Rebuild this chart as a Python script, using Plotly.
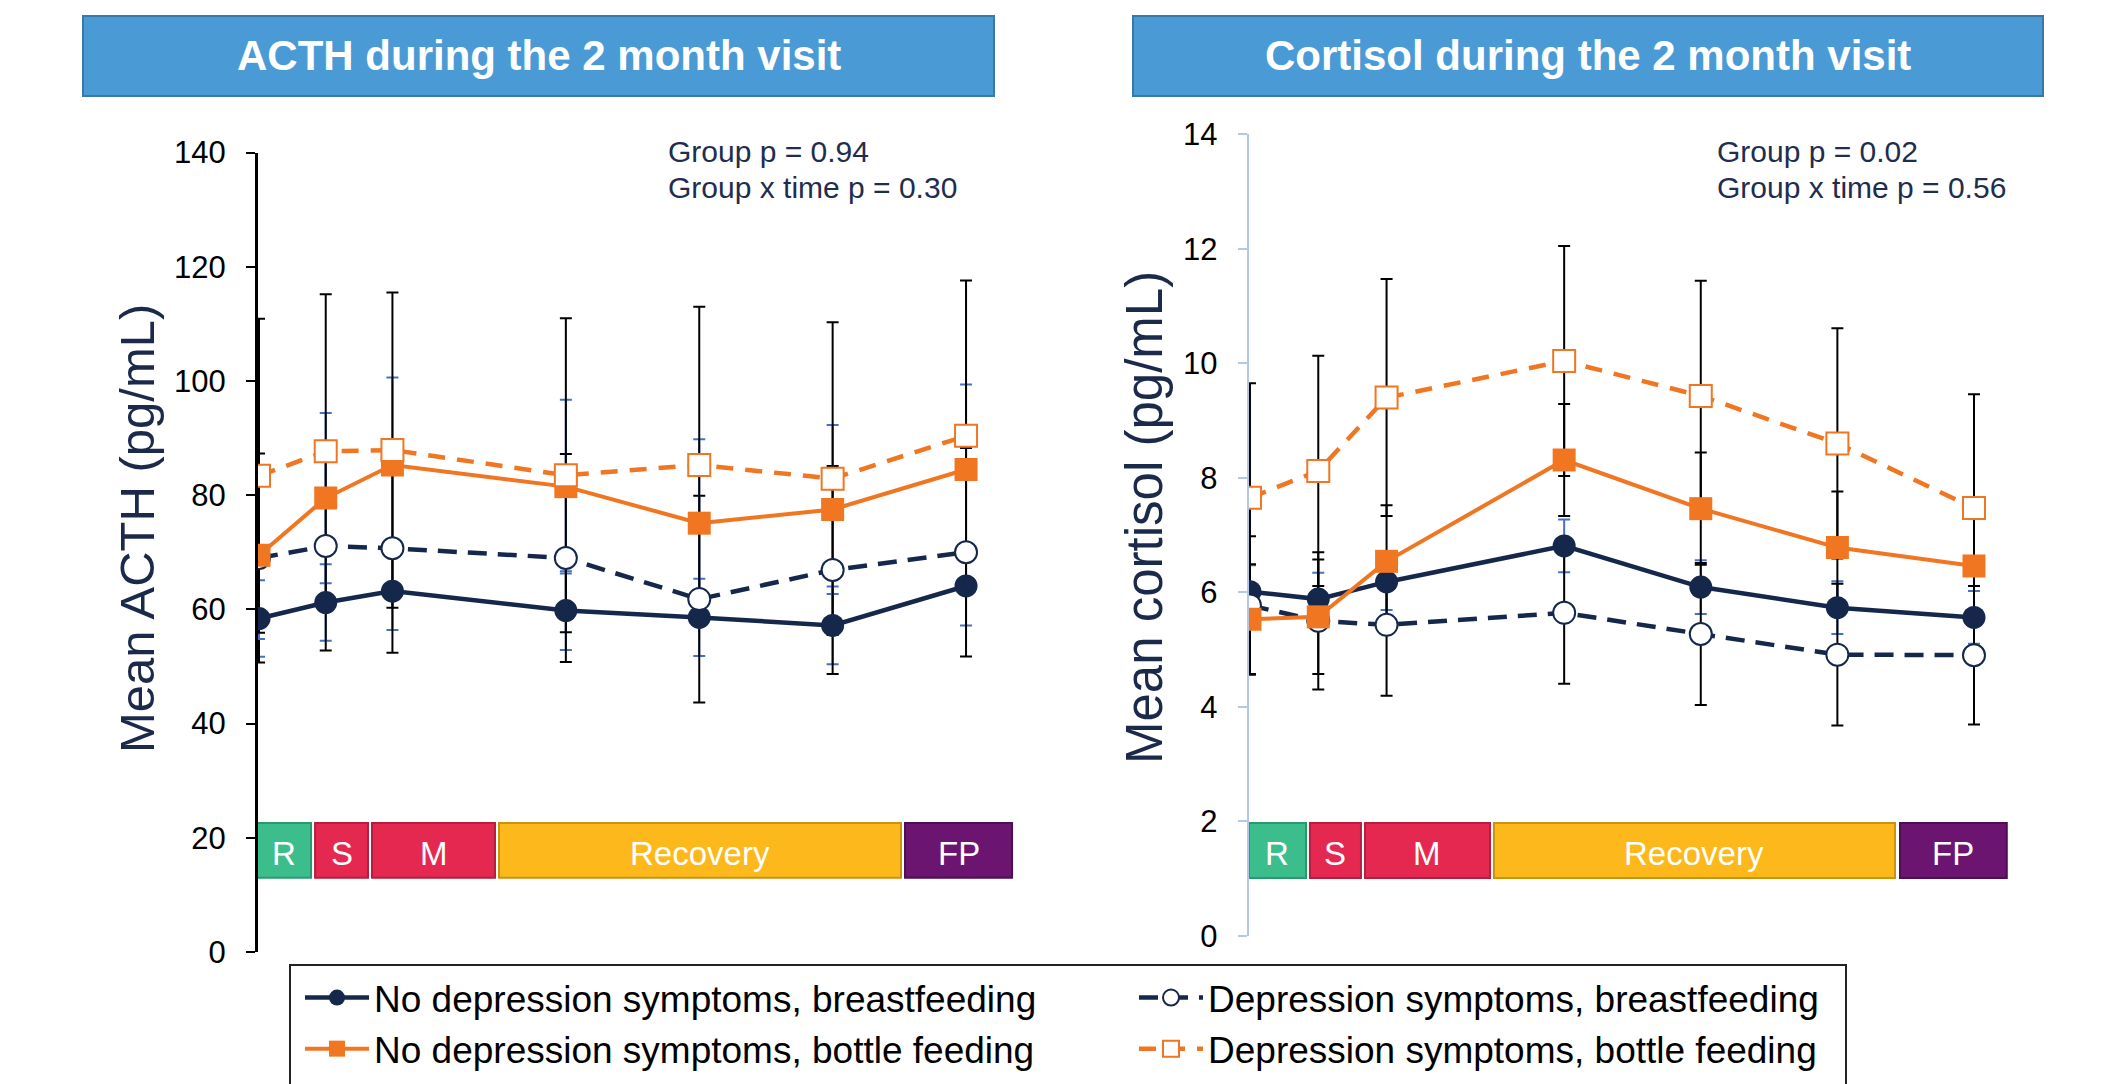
import plotly.graph_objects as go

# ---------------- data ----------------
TIME = [0, 1, 2, 4.6, 6.6, 8.6, 10.6]

SERIES = [
    "No depression symptoms, breastfeeding",
    "Depression symptoms, breastfeeding",
    "No depression symptoms, bottle feeding",
    "Depression symptoms, bottle feeding",
]

# ACTH (pg/mL): means and error-bar half lengths
ACTH_NDB = [58.4, 61.2, 63.2, 59.8, 58.6, 57.2, 64.1]
ACTH_NDB_ERR = [6.7, 6.7, 6.8, 6.9, 6.75, 6.8, 6.9]
ACTH_DB = [69.0, 71.1, 70.7, 69.0, 61.8, 66.9, 70.0]
ACTH_DB_ERR = [18.3, 18.3, 18.3, 18.2, 18.1, 18.2, 18.25]
ACTH_NDBOT = [69.5, 79.5, 85.3, 81.5, 75.1, 77.5, 84.5]
ACTH_NDBOT_ERR = [14.7, 14.9, 15.3, 15.2, 14.7, 14.8, 14.9]
ACTH_DBOT = [83.4, 87.7, 87.9, 83.5, 85.3, 82.9, 90.4]
ACTH_DBOT_ERR = [27.5, 27.5, 27.6, 27.5, 27.7, 27.4, 27.2]

# Cortisol (pg/mL)
CORT_NDB = [6.01, 5.88, 6.18, 6.81, 6.09, 5.73, 5.56]
CORT_NDB_ERR = [0.46, 0.46, 0.49, 0.46, 0.47, 0.46, 0.46]
CORT_DB = [5.77, 5.50, 5.43, 5.64, 5.27, 4.91, 4.90]
CORT_DB_ERR = [1.21, 1.20, 1.24, 1.24, 1.24, 1.24, 1.21]
CORT_NDBOT = [5.53, 5.57, 6.54, 8.31, 7.46, 6.78, 6.46]
CORT_NDBOT_ERR = [0.96, 1.00, 0.98, 0.98, 0.98, 0.98, 0.98]
CORT_DBOT = [7.65, 8.12, 9.40, 10.04, 9.43, 8.60, 7.47]
CORT_DBOT_ERR = [2.00, 2.01, 2.07, 2.01, 2.01, 2.01, 1.99]

ACTH_TICKS = [0, 20, 40, 60, 80, 100, 120, 140]
CORT_TICKS = [0, 2, 4, 6, 8, 10, 12, 14]

# protocol phases (label, start, end) in time units, per panel
PHASE_LABELS = ["R", "S", "M", "Recovery", "FP"]
ACTH_PHASE_START = [-0.045, 0.84, 1.694, 3.598, 9.685]
ACTH_PHASE_END = [0.78, 1.634, 3.538, 9.625, 11.29]
ACTH_PHASE_Y = [13.0, 22.6]
CORT_PHASE_START = [-0.015, 0.878, 1.684, 3.572, 9.517]
CORT_PHASE_END = [0.82, 1.625, 3.514, 9.444, 11.08]
CORT_PHASE_Y = [1.01, 1.97]

ACTH_STATS = ["Group p = 0.94", "Group x time p = 0.30"]
CORT_STATS = ["Group p = 0.02", "Group x time p = 0.56"]

# ---------------- styling ----------------
W, H = 2122, 1084
PAGE_OFF = 8  # default body margin of the html page
NAVY = "#15284C"
ORANGE = "#F07622"
EBLUE = "#4472C4"
BLACK = "#000000"
FONT = "Liberation Sans, Arial, sans-serif"

PHASE_FILL = ["#3BBE8C", "#E4284F", "#E4284F", "#FDB81B", "#6B1470"]
PHASE_LINE = ["#2A9A6E", "#B51E3E", "#B51E3E", "#C9930F", "#4E0E52"]


def px_x(p):
    return (p - PAGE_OFF) / W


def px_y(p):
    return 1 - (p - PAGE_OFF) / H


STYLES = [
    dict(color=NAVY, width=4.5, dash="solid", symbol="circle", size=23,
         mfill=NAVY, mline=0),
    dict(color=NAVY, width=4.5, dash="19px,11px", symbol="circle", size=22,
         mfill="white", mline=2),
    dict(color=ORANGE, width=4, dash="solid", symbol="square", size=23,
         mfill=ORANGE, mline=0),
    dict(color=ORANGE, width=4.5, dash="17px,12px", symbol="square", size=22,
         mfill="white", mline=2),
]

fig = go.Figure()

panels = [
    dict(xa="x", ya="y",
         vals=[ACTH_NDB, ACTH_DB, ACTH_NDBOT, ACTH_DBOT],
         errs=[ACTH_NDB_ERR, ACTH_DB_ERR, ACTH_NDBOT_ERR, ACTH_DBOT_ERR],
         ecol=[EBLUE, BLACK, EBLUE, BLACK], legend=True),
    dict(xa="x2", ya="y2",
         vals=[CORT_NDB, CORT_DB, CORT_NDBOT, CORT_DBOT],
         errs=[CORT_NDB_ERR, CORT_DB_ERR, CORT_NDBOT_ERR, CORT_DBOT_ERR],
         ecol=[EBLUE, BLACK, BLACK, BLACK], legend=False),
]

# error bars first (drawn beneath every line and marker)
for pan in panels:
    for i, name in enumerate(SERIES):
        fig.add_trace(go.Scatter(
            x=TIME, y=pan["vals"][i], name=name, mode="markers",
            xaxis=pan["xa"], yaxis=pan["ya"], showlegend=False, hoverinfo="skip",
            marker=dict(size=2, color="rgba(0,0,0,0)"),
            error_y=dict(type="data", array=pan["errs"][i], visible=True,
                         color=pan["ecol"][i], thickness=2, width=6),
        ))

# lines and markers
for pan in panels:
    for i, name in enumerate(SERIES):
        st = STYLES[i]
        fig.add_trace(go.Scatter(
            x=TIME, y=pan["vals"][i], name=name, mode="lines+markers",
            xaxis=pan["xa"], yaxis=pan["ya"], showlegend=pan["legend"],
            line=dict(color=st["color"], width=st["width"], dash=st["dash"]),
            marker=dict(symbol=st["symbol"], size=st["size"], color=st["mfill"],
                        line=dict(color=st["color"], width=st["mline"])),
        ))

shapes = []
annotations = []

# title boxes
for x0, x1, txt in [(83, 994, "ACTH during the 2 month visit"),
                    (1133, 2043, "Cortisol during the 2 month visit")]:
    shapes.append(dict(type="rect", xref="paper", yref="paper",
                       x0=px_x(x0), x1=px_x(x1), y0=px_y(96), y1=px_y(16),
                       fillcolor="#4A9BD5", line=dict(color="#3A78A8", width=2),
                       layer="below"))
    annotations.append(dict(xref="paper", yref="paper",
                            x=px_x((x0 + x1) / 2), y=px_y(56), text=f"<b>{txt}</b>",
                            showarrow=False, xanchor="center", yanchor="middle",
                            font=dict(family=FONT, size=42, color="white")))

# phase boxes
for xa, ya, starts, ends, yr in [("x", "y", ACTH_PHASE_START, ACTH_PHASE_END, ACTH_PHASE_Y),
                                 ("x2", "y2", CORT_PHASE_START, CORT_PHASE_END, CORT_PHASE_Y)]:
    for j, lab in enumerate(PHASE_LABELS):
        shapes.append(dict(type="rect", xref=xa, yref=ya,
                           x0=starts[j], x1=ends[j], y0=yr[0], y1=yr[1],
                           fillcolor=PHASE_FILL[j],
                           line=dict(color=PHASE_LINE[j], width=2), layer="below"))
        annotations.append(dict(xref=xa, yref=ya, x=(starts[j] + ends[j]) / 2,
                                y=(yr[0] + yr[1]) / 2, text=lab, showarrow=False,
                                yshift=-3,
                                font=dict(family=FONT, size=33, color="white")))

# stats text
for xpx, lines in [(666, ACTH_STATS), (1715, CORT_STATS)]:
    for ln, ypx in zip(lines, [152, 188]):
        annotations.append(dict(xref="paper", yref="paper", x=px_x(xpx), y=px_y(ypx),
                                text=ln, showarrow=False, xanchor="left",
                                yanchor="middle",
                                font=dict(family=FONT, size=30, color="#1F2D4F")))

# axis titles
annotations.append(dict(xref="paper", yref="paper", x=px_x(137), y=px_y(529),
                        text="Mean ACTH (pg/mL)", textangle=-90, showarrow=False,
                        xanchor="center", yanchor="middle",
                        font=dict(family=FONT, size=49, color="#1B2A4A")))
annotations.append(dict(xref="paper", yref="paper", x=px_x(1145), y=px_y(518),
                        text="Mean cortisol (pg/mL)", textangle=-90, showarrow=False,
                        xanchor="center", yanchor="middle",
                        font=dict(family=FONT, size=51, color="#1B2A4A")))

# legend frame
shapes.append(dict(type="rect", xref="paper", yref="paper",
                   x0=px_x(290), x1=px_x(1846), y0=px_y(1120), y1=px_y(965),
                   line=dict(color="#222222", width=2), fillcolor="rgba(0,0,0,0)"))

xa_common = dict(visible=False, showgrid=False, zeroline=False)
ya_common = dict(showgrid=False, zeroline=False, showline=True, ticks="outside",
                 ticklen=9, tickwidth=2, ticklabelstandoff=14,
                 tickfont=dict(family=FONT, size=31, color="black"))

fig.update_layout(
    width=W, height=H, autosize=False,
    margin=dict(l=0, r=0, t=0, b=0, autoexpand=False),
    paper_bgcolor="white", plot_bgcolor="rgba(0,0,0,0)",
    xaxis=dict(domain=[px_x(257.7), px_x(1019.4)], range=[-0.02, 11.4], **xa_common),
    xaxis2=dict(domain=[px_x(1248.6), px_x(2021.8)], range=[-0.02, 11.3], **xa_common),
    yaxis=dict(domain=[px_y(952), px_y(152.6)], range=[0, 140], tickvals=ACTH_TICKS,
               linecolor="black", linewidth=2.5, tickcolor="black", anchor="x",
               **ya_common),
    yaxis2=dict(domain=[px_y(935.7), px_y(134.3)], range=[0, 14], tickvals=CORT_TICKS,
                linecolor="#B4C7E7", linewidth=2, tickcolor="#B4C7E7", anchor="x2",
                **ya_common),
    shapes=shapes,
    annotations=annotations,
    showlegend=True,
    legend=dict(orientation="h", x=px_x(300), y=px_y(967), xanchor="left", yanchor="top",
                entrywidth=755, entrywidthmode="pixels", itemwidth=64,
                font=dict(family=FONT, size=37, color="black"),
                bgcolor="rgba(0,0,0,0)", borderwidth=0, traceorder="normal"),
)

fig.write_html("out.html")
